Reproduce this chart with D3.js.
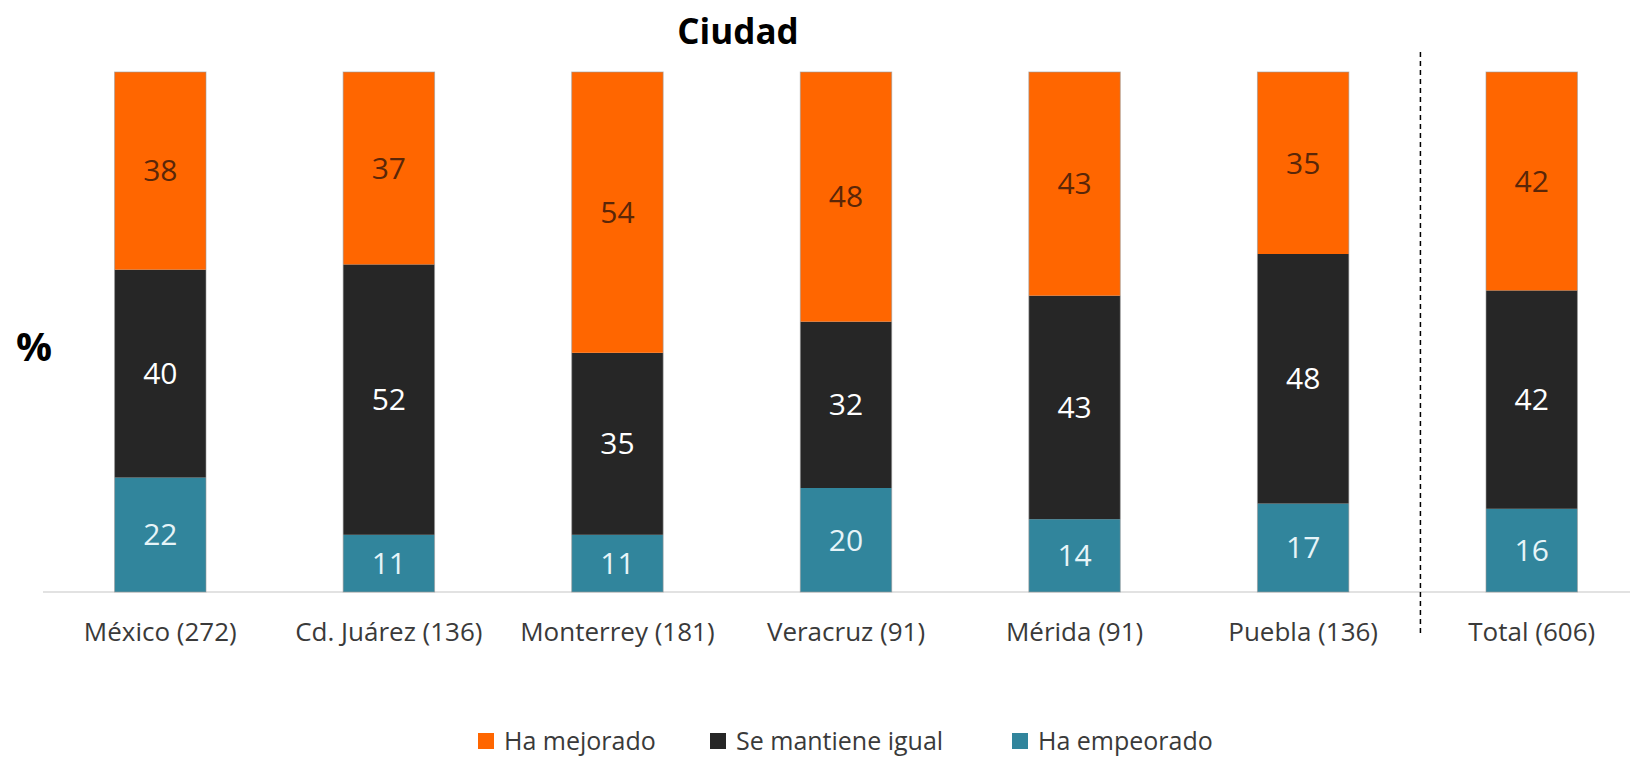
<!doctype html>
<html>
  <head>
    <meta charset="utf-8">
    <script src="https://cdnjs.cloudflare.com/ajax/libs/d3/7.8.5/d3.min.js"></script>
    <style>
      body { margin: 0; background: #fff; }
      svg text { font-family: "Open Sans", sans-serif; }
    </style>
  </head>
  <body>
    <div id="viz">
      <svg width="1630" height="759"></svg>
    </div>
    <script>
      var ciudades = ["México (272)", "Cd. Juárez (136)", "Monterrey (181)", "Veracruz (91)", "Mérida (91)", "Puebla (136)", "Total (606)"];
      var mejorado = [38, 37, 54, 48, 43, 35, 42];
      var igual = [40, 52, 35, 32, 43, 48, 42];
      var empeorado = [22, 11, 11, 20, 14, 17, 16];
      var series = ["Ha mejorado", "Se mantiene igual", "Ha empeorado"];
      var colores = ["#ff6600", "#262626", "#31859c"];
      var textoColor = ["#5a2608", "#ffffff", "#e6f4f8"];

      var svg = d3.select("svg");

      var tabla = ciudades.map(function(c, i) {
        return { ciudad: c, "Ha empeorado": empeorado[i], "Se mantiene igual": igual[i], "Ha mejorado": mejorado[i] };
      });

      var x = d3.scaleBand()
        .domain(ciudades)
        .range([46, 1646])
        .paddingInner(0.6)
        .paddingOuter(0.3);

      var y = d3.scaleLinear()
        .domain([0, 100])
        .range([592, 72]);

      // apilado de abajo hacia arriba: empeorado, igual, mejorado
      var stack = d3.stack().keys(["Ha empeorado", "Se mantiene igual", "Ha mejorado"]);
      var capas = stack(tabla);

      var color = d3.scaleOrdinal().domain(series).range(colores);
      var colorTexto = d3.scaleOrdinal().domain(series).range(textoColor);

      // linea del eje
      svg.append("line")
        .attr("x1", 43).attr("x2", 1630)
        .attr("y1", y(0)).attr("y2", y(0))
        .attr("stroke", "#d9d9d9")
        .attr("stroke-width", 1.5);

      var grupos = svg.selectAll("g.capa")
        .data(capas)
        .enter()
        .append("g")
          .attr("class", "capa")
          .attr("fill", function(d) { return color(d.key); });

      grupos.selectAll("rect")
        .data(function(d) { return d; })
        .enter()
        .append("rect")
          .attr("x", function(d) { return x(d.data.ciudad); })
          .attr("y", function(d) { return y(d[1]); })
          .attr("width", x.bandwidth())
          .attr("height", function(d) { return y(d[0]) - y(d[1]); });

      // borde gris suave de cada barra
      svg.selectAll("rect.borde")
        .data(ciudades)
        .enter()
        .append("rect")
          .attr("class", "borde")
          .attr("x", function(d) { return x(d); })
          .attr("y", y(100))
          .attr("width", x.bandwidth())
          .attr("height", y(0) - y(100))
          .attr("fill", "none")
          .attr("stroke", "#9a9a9a")
          .attr("stroke-opacity", 0.6)
          .attr("stroke-width", 1);

      grupos.each(function(capa) {
        d3.select(this).selectAll("text")
          .data(capa)
          .enter()
          .append("text")
            .attr("x", function(d) { return x(d.data.ciudad) + x.bandwidth() / 2; })
            .attr("y", function(d) { return (y(d[0]) + y(d[1])) / 2; })
            .attr("dy", "0.35em")
            .attr("text-anchor", "middle")
            .attr("fill", colorTexto(capa.key))
            .style("font-size", "30px")
            .text(function(d) { return d[1] - d[0]; });
      });

      // etiquetas de ciudad
      svg.selectAll("text.ciudad")
        .data(ciudades)
        .enter()
        .append("text")
          .attr("class", "ciudad")
          .attr("x", function(d) { return x(d) + x.bandwidth() / 2; })
          .attr("y", 632)
          .attr("dy", "0.35em")
          .attr("text-anchor", "middle")
          .attr("fill", "#3a3a3a")
          .style("font-size", "26px")
          .text(function(d) { return d; });

      // separador antes del total
      var xSep = (x(ciudades[5]) + x.bandwidth() + x(ciudades[6])) / 2 + 3;
      svg.append("line")
        .attr("x1", xSep).attr("x2", xSep)
        .attr("y1", 52).attr("y2", 635)
        .attr("stroke", "#000")
        .attr("stroke-width", 1.5)
        .attr("stroke-dasharray", "5,4");

      svg.append("text")
        .attr("x", 738).attr("y", 32)
        .attr("dy", "0.35em")
        .attr("text-anchor", "middle")
        .style("font-size", "35px")
        .style("font-weight", "bold")
        .text("Ciudad");

      svg.append("text")
        .attr("x", 34).attr("y", 347)
        .attr("dy", "0.35em")
        .attr("text-anchor", "middle")
        .style("font-size", "40px")
        .style("font-weight", "bold")
        .text("%");

      // leyenda
      var legX = [478, 710, 1012];
      var leyenda = svg.selectAll("g.leyenda")
        .data(series)
        .enter()
        .append("g")
          .attr("class", "leyenda")
          .attr("transform", function(d, i) { return "translate(" + legX[i] + ",741)"; });

      leyenda.append("rect")
        .attr("x", 0).attr("y", -8)
        .attr("width", 16).attr("height", 16)
        .attr("fill", function(d) { return color(d); });

      leyenda.append("text")
        .attr("x", 26).attr("y", 0)
        .attr("dy", "0.35em")
        .attr("fill", "#3a3a3a")
        .style("font-size", "25px")
        .text(function(d) { return d; });
    </script>
  </body>
</html>
